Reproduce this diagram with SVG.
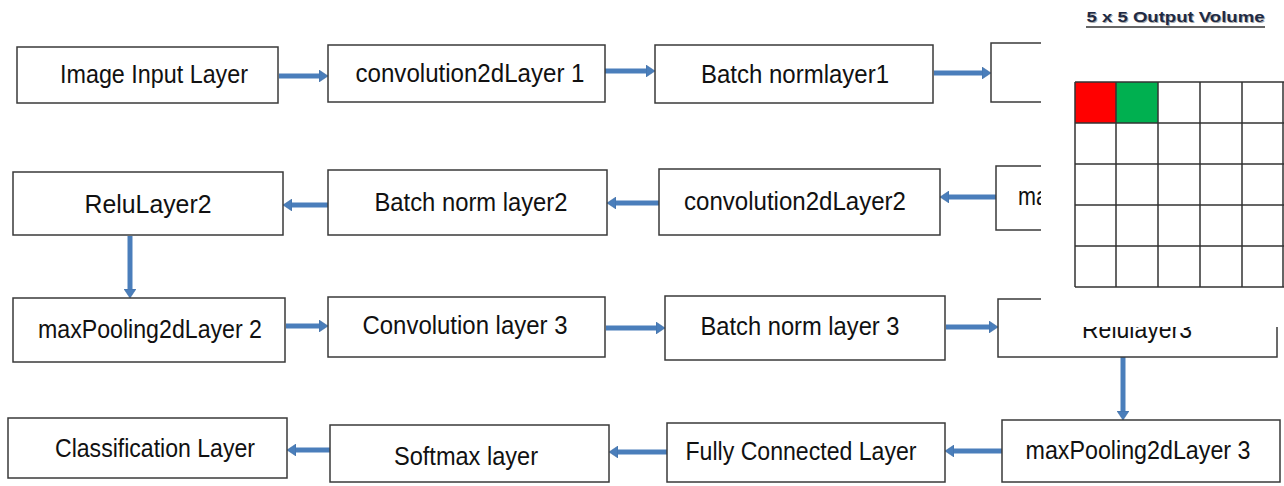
<svg xmlns="http://www.w3.org/2000/svg" width="1284" height="486" viewBox="0 0 1284 486">
<style>
.box{fill:#fff;stroke:#3a3a3a;stroke-width:1.5}
.lbl{font-family:"Liberation Sans",Arial,sans-serif;font-size:25px;fill:#111;text-anchor:middle}
.con{stroke:#4a7ebb;stroke-width:5;fill:none}
.grid{fill:none;stroke:#333;stroke-width:1.5}
.ttl{font-family:"Liberation Sans",Arial,sans-serif;font-size:14px;font-weight:bold;text-anchor:middle}
</style>
<defs>
<marker id="ah" viewBox="0 -6 9 12" refX="0" refY="0" markerWidth="9" markerHeight="12" markerUnits="userSpaceOnUse" orient="auto">
<path d="M0,-6 L9,0 L0,6 z" fill="#4a7ebb" stroke="#3b6a9f" stroke-width="0.6"/>
</marker>
</defs>
<rect width="1284" height="486" fill="#fff"/>

<g id="connectors">
<line class="con" x1="279" y1="76" x2="319" y2="76" marker-end="url(#ah)"/>
<line class="con" x1="605" y1="71" x2="646" y2="71" marker-end="url(#ah)"/>
<line class="con" x1="934" y1="73" x2="982" y2="73" marker-end="url(#ah)"/>
<line class="con" x1="996" y1="197" x2="949" y2="197" marker-end="url(#ah)"/>
<line class="con" x1="659" y1="203" x2="616" y2="203" marker-end="url(#ah)"/>
<line class="con" x1="328" y1="205" x2="292" y2="205" marker-end="url(#ah)"/>
<line class="con" x1="130" y1="236" x2="130" y2="289" marker-end="url(#ah)"/>
<line class="con" x1="286" y1="326" x2="319" y2="326" marker-end="url(#ah)"/>
<line class="con" x1="606" y1="328" x2="656" y2="328" marker-end="url(#ah)"/>
<line class="con" x1="946" y1="327" x2="989" y2="327" marker-end="url(#ah)"/>
<line class="con" x1="1123" y1="357" x2="1123" y2="411" marker-end="url(#ah)"/>
<line class="con" x1="1002" y1="451" x2="954" y2="451" marker-end="url(#ah)"/>
<line class="con" x1="667" y1="452" x2="618" y2="452" marker-end="url(#ah)"/>
<line class="con" x1="330" y1="450" x2="296" y2="450" marker-end="url(#ah)"/>
</g>

<g id="n-image-input"><rect class="box" x="17" y="47" width="261" height="56"/><text class="lbl" x="154" y="83" textLength="188" lengthAdjust="spacingAndGlyphs">Image Input Layer</text></g>
<g id="n-conv1"><rect class="box" x="328" y="45" width="277" height="57"/><text class="lbl" x="470" y="82" textLength="229" lengthAdjust="spacingAndGlyphs">convolution2dLayer 1</text></g>
<g id="n-bn1"><rect class="box" x="655" y="45" width="278" height="58"/><text class="lbl" x="795" y="83" textLength="188" lengthAdjust="spacingAndGlyphs">Batch normlayer1</text></g>
<g id="n-relu1"><rect class="box" x="991" y="43" width="280" height="59"/></g>

<g id="n-relu2"><rect class="box" x="13" y="172" width="270" height="63"/><text class="lbl" x="148" y="213" textLength="127" lengthAdjust="spacingAndGlyphs">ReluLayer2</text></g>
<g id="n-bn2"><rect class="box" x="328" y="170" width="279" height="65"/><text class="lbl" x="471" y="211" textLength="193" lengthAdjust="spacingAndGlyphs">Batch norm layer2</text></g>
<g id="n-conv2"><rect class="box" x="659" y="169" width="281" height="66"/><text class="lbl" x="795" y="210" textLength="222" lengthAdjust="spacingAndGlyphs">convolution2dLayer2</text></g>
<g id="n-maxpool1"><rect class="box" x="996" y="166" width="280" height="64"/><text class="lbl" x="1018" y="205" style="text-anchor:start" textLength="30" lengthAdjust="spacingAndGlyphs">ma</text></g>

<g id="n-maxpool2"><rect class="box" x="13" y="298" width="272" height="64"/><text class="lbl" x="150" y="338" textLength="224" lengthAdjust="spacingAndGlyphs">maxPooling2dLayer 2</text></g>
<g id="n-conv3"><rect class="box" x="328" y="297" width="277" height="60"/><text class="lbl" x="465" y="334" textLength="205" lengthAdjust="spacingAndGlyphs">Convolution layer 3</text></g>
<g id="n-bn3"><rect class="box" x="665" y="296" width="280" height="64"/><text class="lbl" x="800" y="335" textLength="199" lengthAdjust="spacingAndGlyphs">Batch norm layer 3</text></g>
<g id="n-relu3"><rect class="box" x="998" y="299" width="279" height="58"/><text class="lbl" x="1137" y="338" textLength="110" lengthAdjust="spacingAndGlyphs">Relulayer3</text></g>

<g id="n-classification"><rect class="box" x="8" y="418" width="279" height="60"/><text class="lbl" x="155" y="457" textLength="200" lengthAdjust="spacingAndGlyphs">Classification Layer</text></g>
<g id="n-softmax"><rect class="box" x="330" y="425" width="279" height="57"/><text class="lbl" x="466" y="465" textLength="144" lengthAdjust="spacingAndGlyphs">Softmax layer</text></g>
<g id="n-fc"><rect class="box" x="667" y="423" width="278" height="59"/><text class="lbl" x="801" y="460" textLength="231" lengthAdjust="spacingAndGlyphs">Fully Connected Layer</text></g>
<g id="n-maxpool3"><rect class="box" x="1002" y="420" width="278" height="62"/><text class="lbl" x="1138" y="459" textLength="225" lengthAdjust="spacingAndGlyphs">maxPooling2dLayer 3</text></g>

<g id="output-volume">
<rect x="1041" y="0" width="243" height="327" fill="#fff"/>
<text class="ttl" x="1176.5" y="23" fill="#aaa" textLength="178" lengthAdjust="spacingAndGlyphs">5 x 5 Output Volume</text>
<text class="ttl" x="1175.5" y="22" fill="#1f2a44" textLength="178" lengthAdjust="spacingAndGlyphs">5 x 5 Output Volume</text>
<line x1="1086" y1="27" x2="1265" y2="27" stroke="#333" stroke-width="1.3"/>
<rect x="1075" y="82" width="41" height="41" fill="#ff0000"/>
<rect x="1116" y="82" width="42" height="41" fill="#00b050"/>
<path class="grid" d="M1075,82 H1284 M1075,123 H1284 M1075,164 H1284 M1075,205 H1284 M1075,246 H1284 M1075,287 H1284 M1075,82 V287 M1116,82 V287 M1158,82 V287 M1200,82 V287 M1242,82 V287 M1283,82 V287"/>
</g>
</svg>
